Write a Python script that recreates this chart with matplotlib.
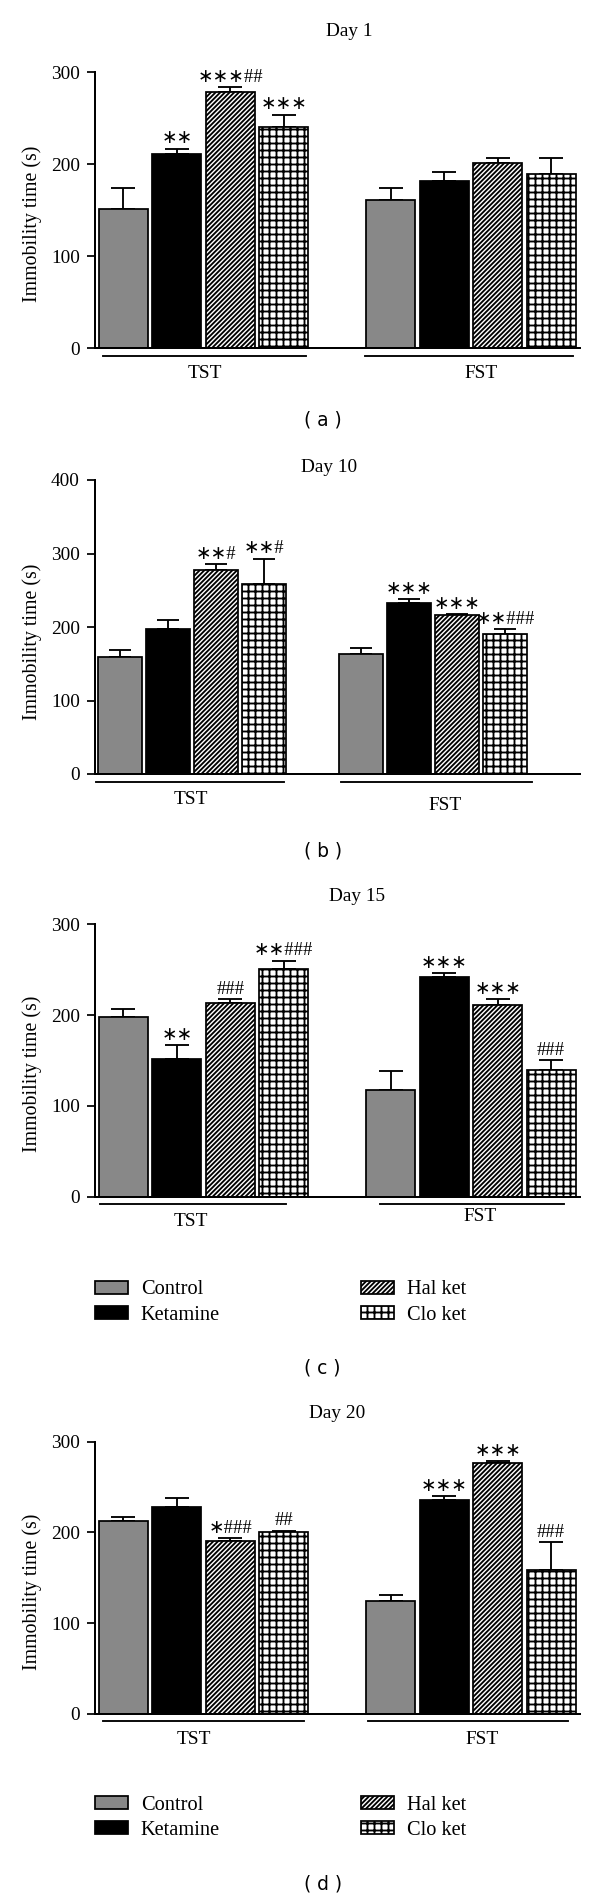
import numpy as np
import matplotlib
matplotlib.use('Agg')
from matplotlib import pyplot as plt
from matplotlib import transforms
from matplotlib.patches import Patch

# figure size in pixels, dpi chosen so '++' hatch gives ~7 px grid
W, H, DPI = 600, 1899, 84

plt.rcParams['font.family'] = ['Liberation Serif', 'DejaVu Sans']
plt.rcParams['hatch.linewidth'] = 1.6

groups = ['TST', 'FST']
treatments = ['Control', 'Ketamine', 'Hal ket', 'Clo ket']
days = ['Day 1', 'Day 10', 'Day 15', 'Day 20']
letters = ['( a )', '( b )', '( c )', '( d )']

# mean immobility time (s), TST then FST
day1_tst = [151, 211, 279, 241]
day1_fst = [161, 182, 201, 190]
day10_tst = [159, 197, 278, 258]
day10_fst = [163, 232, 216, 191]
day15_tst = [198, 152, 213, 251]
day15_fst = [118, 242, 211, 140]
day20_tst = [213, 228, 191, 200]
day20_fst = [125, 236, 276, 159]

# SEM (upper error only)
day1_tst_err = [23, 6, 5, 13]
day1_fst_err = [13, 10, 6, 17]
day10_tst_err = [10, 12, 8, 35]
day10_fst_err = [9, 6, 2, 6]
day15_tst_err = [9, 15, 5, 9]
day15_fst_err = [20, 4, 7, 10]
day20_tst_err = [4, 10, 3, 2]
day20_fst_err = [6, 4, 3, 30]

# significance marks
day1_marks = ['', '∗∗', '∗∗∗##', '∗∗∗', '', '', '', '']
day10_marks = ['', '', '∗∗#', '∗∗#', '', '∗∗∗', '∗∗∗', '∗∗###']
day15_marks = ['', '∗∗', '###', '∗∗###', '', '∗∗∗', '∗∗∗', '###']
day20_marks = ['', '', '∗###', '##', '', '∗∗∗', '∗∗∗', '###']

yticks_300 = [0, 100, 200, 300]
yticks_400 = [0, 100, 200, 300, 400]

colors = ['#888888', 'black', 'white', 'white']
hatches = [None, None, '//////', '++']

# ---- layout (pixels) ----
panels = [
    dict(means=day1_tst + day1_fst, errs=day1_tst_err + day1_fst_err, marks=day1_marks,
         box=(95, 72.3, 580, 348.3), ymax=300, ticks=yticks_300, xlim=(-0.53, 8.54), width=0.916,
         title=(349, 32), letter=420, under_y=356, under=[(-0.38, 3.41), (4.52, 8.41)],
         glab=[(1.53, 373), (6.69, 373)], legend=None, cap=10.5),
    dict(means=day10_tst + day10_fst, errs=day10_tst_err + day10_fst_err, marks=day10_marks,
         box=(95, 480, 580, 774), ymax=400, ticks=yticks_400, xlim=(-0.51, 9.55), width=0.91,
         title=(329.5, 467), letter=851, under_y=781.5, under=[(-0.48, 3.41), (4.59, 8.55)],
         glab=[(1.48, 800), (6.75, 805)], legend=None, cap=9.3),
    dict(means=day15_tst + day15_fst, errs=day15_tst_err + day15_fst_err, marks=day15_marks,
         box=(95, 924.3, 580, 1196.7), ymax=300, ticks=yticks_300, xlim=(-0.53, 8.54), width=0.916,
         title=(357, 897), letter=1368, under_y=1204, under=[(-0.43, 3.05), (4.80, 8.24)],
         glab=[(1.27, 1221.5), (6.67, 1216.5)], legend=1293.5, cap=10.5),
    dict(means=day20_tst + day20_fst, errs=day20_tst_err + day20_fst_err, marks=day20_marks,
         box=(95, 1441.7, 580, 1714), ymax=300, ticks=yticks_300, xlim=(-0.53, 8.54), width=0.916,
         title=(337, 1413), letter=1884, under_y=1721, under=[(-0.38, 3.38), (4.58, 8.32)],
         glab=[(1.31, 1740), (6.70, 1740)], legend=1809, cap=10.5),
]

xpos = np.array([0, 1, 2, 3, 5, 6, 7, 8])


def fy(y):
    return 1 - y / H


fig = plt.figure(figsize=(W / DPI, H / DPI), dpi=DPI)

for i, p in enumerate(panels):
    l, t, r, b = p['box']
    ax = fig.add_axes([l / W, fy(b), (r - l) / W, (b - t) / H])

    means = np.array(p['means'])
    errs = np.array(p['errs'])
    for j in range(8):
        k = j % 4
        ax.bar(xpos[j], means[j], width=p['width'], color=colors[k], edgecolor='black',
               linewidth=1.5, hatch=hatches[k], zorder=2)
    ax.errorbar(xpos, means, yerr=[np.zeros(8), errs], fmt='none', ecolor='black',
                elinewidth=1.6, capsize=p['cap'], capthick=1.6, zorder=1)

    for j in range(8):
        if p['marks'][j]:
            ax.annotate(p['marks'][j], (xpos[j], means[j] + errs[j]), xytext=(0, 1),
                        textcoords='offset points', ha='center', va='bottom', fontsize=16)

    ax.set_xlim(*p['xlim'])
    ax.set_ylim(0, p['ymax'])
    ax.set_yticks(p['ticks'])
    ax.set_xticks([])
    ax.spines['top'].set_visible(False)
    ax.spines['right'].set_visible(False)
    ax.spines['left'].set_linewidth(1.7)
    ax.spines['bottom'].set_linewidth(1.7)
    ax.tick_params(axis='y', length=7, width=1.5, pad=6, labelsize=16.5)
    ax.set_ylabel('Immobility time (s)', fontsize=17)
    ax.yaxis.set_label_coords(-0.11, 0.45)

    # group underlines and labels
    trans = transforms.blended_transform_factory(ax.transData, fig.transFigure)
    for (x0, x1) in p['under']:
        ax.plot([x0, x1], [fy(p['under_y'])] * 2, color='black', lw=1.6,
                transform=trans, clip_on=False)
    for g, (gx, gy) in zip(groups, p['glab']):
        ax.text(gx, fy(gy), g, transform=trans, ha='center', va='center', fontsize=16.5)

    fig.text(p['title'][0] / W, fy(p['title'][1]), days[i], ha='center', va='center', fontsize=16.5)
    fig.text(322.7 / W, fy(p['letter']), letters[i], ha='center', va='center',
             fontsize=16, family='DejaVu Sans')

    if p['legend'] is not None:
        handles = [Patch(facecolor=colors[k], edgecolor='black', hatch=hatches[k], linewidth=1.5)
                   for k in range(4)]
        fig.legend(handles, treatments, loc='upper left', ncol=2, frameon=False,
                   bbox_to_anchor=(95 / W, fy(p['legend'] - 13)), borderpad=0, borderaxespad=0,
                   handlelength=1.6, handleheight=0.6, handletextpad=0.65,
                   columnspacing=6.9, labelspacing=0.3, fontsize=17.5)

fig.savefig('out.png', dpi=DPI)
